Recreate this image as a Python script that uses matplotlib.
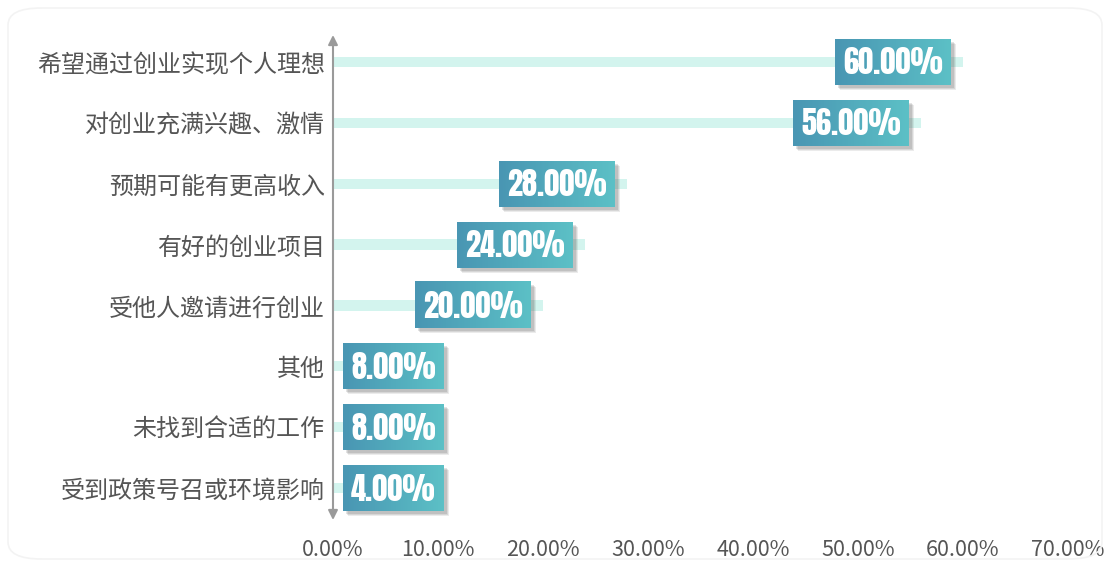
import numpy as np
import matplotlib
matplotlib.use("Agg")
import matplotlib.pyplot as plt
import matplotlib.font_manager as fm
from matplotlib.patches import FancyBboxPatch, Rectangle

available = set(f.name for f in fm.fontManager.ttflist)
num_fonts = [f for f in ["Anton", "Oswald", "Fjalla One", "Liberation Sans Narrow"] if f in available] + ["DejaVu Sans"]
plt.rcParams["font.family"] = ["Noto Sans CJK SC", "DejaVu Sans"]

# 数据
categories = ["希望通过创业实现个人理想", "对创业充满兴趣、激情", "预期可能有更高收入",
              "有好的创业项目", "受他人邀请进行创业", "其他", "未找到合适的工作",
              "受到政策号召或环境影响"]
values = [60.0, 56.0, 28.0, 24.0, 20.0, 8.0, 8.0, 4.0]
xticks = [0, 10, 20, 30, 40, 50, 60, 70]

W, H = 1110, 567
X0, X1 = 333, 1068   # 0% 与 70% 的像素位置
fig = plt.figure(figsize=(W / 100, H / 100), dpi=100, facecolor="white")
ax = fig.add_axes([X0 / W, 1 - 520 / H, (X1 - X0) / W, (520 - 35) / H])

# 背景圆角边框
fig.patches.append(FancyBboxPatch((8 / W, 8 / H), 1 - 16 / W, 1 - 16 / H,
                                  boxstyle="round,pad=0,rounding_size=0.03",
                                  transform=fig.transFigure, fc="none",
                                  ec="#f3f3f3", lw=1.2))

y = np.arange(len(categories))
ax.barh(y, values, height=0.17, color="#d3f4ee", zorder=1)

ax.set_xlim(0, 70)
ax.set_ylim(7.525, -0.443)
ax.set_xticks(xticks)
ax.set_xticklabels(["%.2f%%" % t for t in xticks], fontsize=15.5, color="#555555", fontweight="light")
ax.set_yticks(y)
ax.set_yticklabels(categories, fontsize=17.3, color="#555555", fontweight="light")
ax.tick_params(axis="both", length=0)
ax.tick_params(axis="x", pad=14)
ax.tick_params(axis="y", pad=6)
for s in ax.spines.values():
    s.set_visible(False)

# 纵轴双箭头
ax.annotate("", xy=(0, 1.0), xytext=(0, 0.5), xycoords="axes fraction",
            arrowprops=dict(arrowstyle="-|>", color="#9a9a9a", lw=1.5,
                            mutation_scale=14, shrinkA=0, shrinkB=0))
ax.annotate("", xy=(0, 0.0), xytext=(0, 0.5), xycoords="axes fraction",
            arrowprops=dict(arrowstyle="-|>", color="#9a9a9a", lw=1.5,
                            mutation_scale=14, shrinkA=0, shrinkB=0))

# 数值标签（渐变方块）
fig.canvas.draw()
renderer = fig.canvas.get_renderer()
px = (70 - 0) / (X1 - X0)          # 每像素对应的数据单位
py = (7.525 + 0.443) / (520 - 35)
grad = np.linspace(0, 1, 64).reshape(1, -1)
cmap = matplotlib.colors.LinearSegmentedColormap.from_list("g", ["#4996b3", "#5cc0c6"])

for i, v in enumerate(values):
    label = "%.2f%%" % v
    t = ax.text(0, i, label, fontsize=22, color="white", family=num_fonts,
                ha="center", va="center", zorder=6)
    bb = t.get_window_extent(renderer)
    bw = (bb.width + 16) * px
    right = v - 12 * px
    left = right - bw
    if left < 10 * px:
        left = 10 * px
        right = left + bw
    bh = 46 * py
    top = i - bh / 2
    # 阴影
    for k, a in [(5, 0.10), (4, 0.12), (3, 0.15)]:
        ax.add_patch(Rectangle((left + k * px, top + k * py), bw, bh,
                               fc="#444444", ec="none", alpha=a, zorder=3))
    ax.imshow(grad, cmap=cmap, aspect="auto", extent=(left, right, top + bh, top),
              zorder=4, interpolation="bilinear")
    t.set_position(((left + right) / 2, i + 1 * py))

ax.set_xlim(0, 70)
ax.set_ylim(7.525, -0.443)

fig.savefig("out.png", dpi=100, facecolor="white")
